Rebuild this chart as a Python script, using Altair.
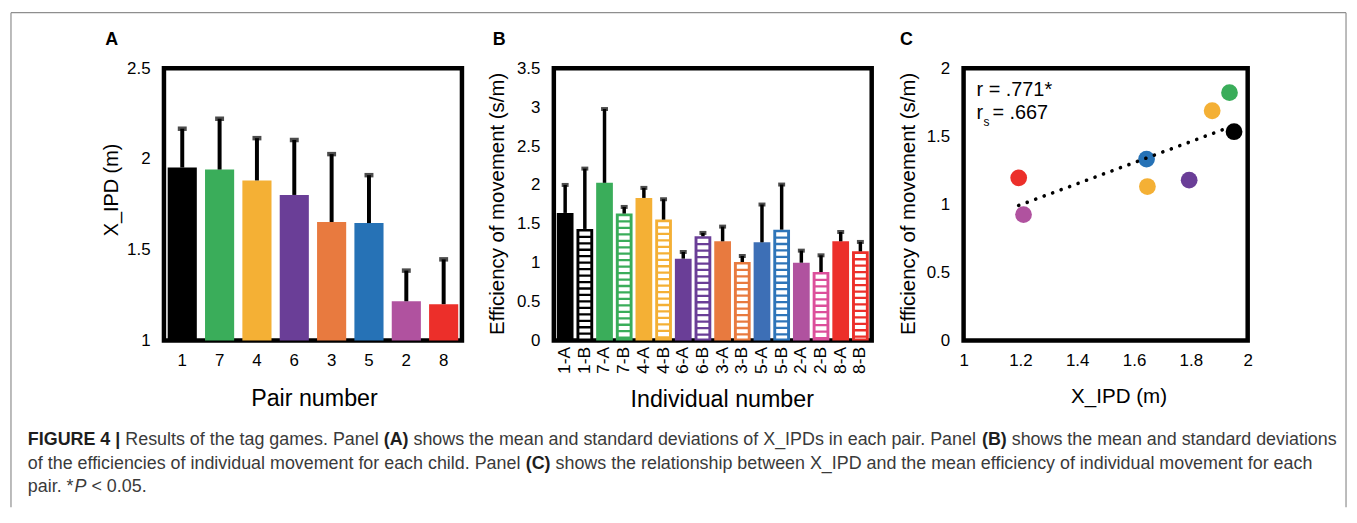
import altair as alt
import pandas as pd

# ---------------- data ----------------
# Panel A: X_IPD per pair (mean and mean+SD)
pairs = ["1", "7", "4", "6", "3", "5", "2", "8"]
pair_colors = ["#000000", "#3aad5a", "#f4b035", "#6a3e97", "#e87a3f", "#2672b6", "#b0529f", "#ec2f2a"]
xipd_mean = [1.953, 1.942, 1.882, 1.802, 1.653, 1.647, 1.216, 1.200]
xipd_upper = [2.167, 2.222, 2.115, 2.105, 2.027, 1.911, 1.385, 1.447]

# Panel B: efficiency of movement per child
individuals = ["1-A", "1-B", "7-A", "7-B", "4-A", "4-B", "6-A", "6-B",
               "3-A", "3-B", "5-A", "5-B", "2-A", "2-B", "8-A", "8-B"]
ind_colors = ["#000000", "#000000", "#3aad5a", "#3aad5a", "#f4b035", "#f4b035",
              "#6a3e97", "#6a3e97", "#e87a3f", "#e87a3f", "#3d6fb6", "#2e75b9",
              "#b0529f", "#dc4f9b", "#ec2f2a", "#ec2f2a"]
ind_hatched = [False, True] * 8
eff_mean = [1.64, 1.434, 2.027, 1.632, 1.833, 1.554, 1.052, 1.34,
            1.275, 1.009, 1.262, 1.425, 1.0, 0.88, 1.275, 1.146]
eff_upper = [2.0, 2.21, 2.976, 1.717, 1.962, 1.816, 1.138, 1.383,
             1.464, 1.086, 1.748, 2.005, 1.155, 1.095, 1.395, 1.267]

# Panel C: X_IPD vs mean efficiency per pair
c_pairs = ["1", "7", "4", "6", "3", "5", "2", "8"]
c_xipd = [1.952, 1.936, 1.875, 1.794, 1.647, 1.644, 1.211, 1.194]
c_eff = [1.534, 1.821, 1.688, 1.178, 1.131, 1.333, 0.925, 1.195]
c_colors = ["#000000", "#3aad5a", "#f4b035", "#6a3e97", "#f4b035", "#2672b6", "#b0529f", "#ec2f2a"]

caption_lines = [
    [("FIGURE 4 |", "b"), (" Results of the tag games. Panel ", "r"), ("(A)", "b"),
     (" shows the mean and standard deviations of X_IPDs in each pair. Panel ", "r"),
     ("(B)", "b"), (" shows the mean and standard deviations", "r")],
    [("of the efficiencies of individual movement for each child. Panel ", "r"), ("(C)", "b"),
     (" shows the relationship between X_IPD and the mean efficiency of individual movement for each", "r")],
    [("pair. *", "r"), ("P", "i"), (" < 0.05.", "r")],
]

# ---------------- layout helpers ----------------
FONT = "Liberation Sans"
H = 274
W_A, W_B, W_C = 300, 320, 286
SP = 92.5
OX_A, OY = 162, 64          # page position of panel A plot origin
OX_B = OX_A + W_A + SP
OX_C = OX_B + W_B + SP

one = pd.DataFrame({"k": [0]})

# Arial / Liberation Sans advance widths (per 1000 em)
REG = {' ': 278, '!': 278, '(': 333, ')': 333, '*': 389, ',': 278, '-': 333, '.': 278,
       '/': 278, '<': 584, '=': 584, '_': 556, '|': 260,
       'a': 556, 'b': 556, 'c': 500, 'd': 556, 'e': 556, 'f': 278, 'g': 556, 'h': 556,
       'i': 222, 'j': 222, 'k': 500, 'l': 222, 'm': 833, 'n': 556, 'o': 556, 'p': 556,
       'q': 556, 'r': 333, 's': 500, 't': 278, 'u': 556, 'v': 500, 'w': 722, 'x': 500,
       'y': 500, 'z': 500,
       'A': 667, 'B': 667, 'C': 722, 'D': 722, 'E': 667, 'F': 611, 'G': 778, 'H': 722,
       'I': 278, 'J': 500, 'K': 667, 'L': 556, 'M': 833, 'N': 722, 'O': 778, 'P': 667,
       'R': 722, 'S': 667, 'T': 611, 'U': 722, 'X': 667}
BOLD = {' ': 278, '(': 333, ')': 333, '|': 280, '4': 556, 'A': 722, 'B': 722, 'C': 722,
        'F': 611, 'I': 278, 'G': 778, 'U': 722, 'R': 722, 'E': 667}


def text_width(s, style, size):
    table = BOLD if style == "b" else REG
    return sum(table.get(ch, 556) for ch in s) * size / 1000.0


def vtext(txt, x, y, size, weight="normal", style="normal", color="black", align="left"):
    return alt.Chart(one).mark_text(
        align=align, baseline="alphabetic", font=FONT, fontSize=size,
        fontWeight=weight, fontStyle=style, color=color
    ).encode(x=alt.value(x), y=alt.value(y), text=alt.value(txt))


def vrule(x, y, x2=None, y2=None, color="#8e8e8e", width=1.2):
    enc = dict(x=alt.value(x), y=alt.value(y))
    if x2 is not None:
        enc["x2"] = alt.value(x2)
    if y2 is not None:
        enc["y2"] = alt.value(y2)
    return alt.Chart(one).mark_rule(color=color, strokeWidth=width).encode(**enc)


# ---------------- panel A ----------------
dfA = pd.DataFrame({"pair": pairs, "mean": xipd_mean, "upper": xipd_upper, "color": pair_colors})
scA_x = alt.Scale(paddingInner=0.22, paddingOuter=0.1)
scA_y = alt.Scale(domain=[1, 2.5], nice=False, zero=False)
axA_x = alt.Axis(title="Pair number", labelAngle=0, labelPadding=12, titleFontSize=23.4,
                 titleX=151, titleY=65, titleBaseline="alphabetic")
axA_y = alt.Axis(title="X_IPD (m)", values=[1, 1.5, 2, 2.5], format="~g", labelPadding=14,
                 titleFontSize=20, titleAngle=270, titleX=-47, titleY=122,
                 titleBaseline="alphabetic")
xA = alt.X("pair:N", sort=pairs, scale=scA_x, axis=axA_x)

barsA = alt.Chart(dfA).mark_bar().encode(
    x=xA, y=alt.Y("mean:Q", scale=scA_y, axis=axA_y), y2=alt.datum(1),
    color=alt.Color("color:N", scale=None))
errA = alt.Chart(dfA).mark_rule(color="black", strokeWidth=4).encode(
    x=xA, y=alt.Y("mean:Q", scale=scA_y, axis=axA_y), y2="upper:Q")
capA = alt.Chart(dfA).mark_tick(color="black", thickness=4.5, size=9, orient="horizontal").encode(
    x=xA, y=alt.Y("upper:Q", scale=scA_y, axis=axA_y))

# figure frame (grey border) and caption, positioned relative to panel A
border = [
    vrule(8 - OX_A, 8 - OY, x2=1352 - OX_A),
    vrule(8 - OX_A, 8 - OY, y2=506 - OY),
    vrule(1352 - OX_A, 8 - OY, y2=506 - OY),
]
caption = []
baselines = [443, 467, 491]
for line, base in zip(caption_lines, baselines):
    xpos = 25.0
    for seg, st in line:
        stripped = seg.lstrip(" ")
        lead = text_width(seg[: len(seg) - len(stripped)], st, 18)
        if stripped:
            caption.append(vtext(
                stripped.rstrip(" "), xpos + lead - OX_A, base - OY, 18,
                weight="bold" if st == "b" else "normal",
                style="italic" if st == "i" else "normal",
                color="#1e1e1e" if st == "b" else "#3a3a3a"))
        xpos += text_width(seg, st, 18)

panelA = alt.layer(
    barsA, errA, capA,
    vtext("A", 103 - OX_A, 41 - OY, 18, weight="bold"),
    *border, *caption
).properties(width=W_A, height=H)

# ---------------- panel B ----------------
dfB = pd.DataFrame({"ind": individuals, "mean": eff_mean, "upper": eff_upper,
                    "color": ind_colors, "hatched": ind_hatched})
scB_x = alt.Scale(paddingInner=0.15, paddingOuter=0.15)
scB_y = alt.Scale(domain=[0, 3.5], nice=False)
axB_x = alt.Axis(title="Individual number", labelAngle=270, labelPadding=6, labelFontSize=17.5,
                 titleFontSize=23.4, titleX=169, titleY=66, titleBaseline="alphabetic")
axB_y = alt.Axis(title="Efficiency of movement (s/m)", values=[0, 0.5, 1, 1.5, 2, 2.5, 3, 3.5],
                 format="~g", labelPadding=14, titleFontSize=20.5, titleAngle=270,
                 titleX=-51, titleY=136, titleBaseline="alphabetic")
xB = alt.X("ind:N", sort=individuals, scale=scB_x, axis=axB_x)

barsB = alt.Chart(dfB).mark_bar().encode(
    x=xB, y=alt.Y("mean:Q", scale=scB_y, axis=axB_y), y2=alt.datum(0),
    color=alt.Color("color:N", scale=None))
stripesB = alt.Chart(dfB).transform_filter(alt.datum.hatched).mark_rule(
    color="white", strokeWidth=11, strokeDash=[4.2, 2.3], strokeCap="butt",
    yOffset=2.6, y2Offset=-2
).encode(x=xB, y=alt.Y("mean:Q", scale=scB_y, axis=axB_y), y2=alt.datum(0))
errB = alt.Chart(dfB).mark_rule(color="black", strokeWidth=3.5).encode(
    x=xB, y=alt.Y("mean:Q", scale=scB_y, axis=axB_y), y2="upper:Q")
capB = alt.Chart(dfB).mark_tick(color="black", thickness=4, size=7, orient="horizontal").encode(
    x=xB, y=alt.Y("upper:Q", scale=scB_y, axis=axB_y))

panelB = alt.layer(
    barsB, stripesB, errB, capB,
    vtext("B", 493 - OX_B, 41 - OY, 18, weight="bold"),
).properties(width=W_B, height=H)

# ---------------- panel C ----------------
dfC = pd.DataFrame({"pair": c_pairs, "xipd": c_xipd, "eff": c_eff, "color": c_colors})
scC_x = alt.Scale(domain=[1, 2], nice=False, zero=False)
scC_y = alt.Scale(domain=[0, 2], nice=False)
axC_x = alt.Axis(title="X_IPD (m)", values=[1, 1.2, 1.4, 1.6, 1.8, 2], format="~g",
                 labelPadding=12, titleFontSize=20.7, titleX=156, titleY=62,
                 titleBaseline="alphabetic")
axC_y = alt.Axis(title="Efficiency of movement (s/m)", values=[0, 0.5, 1, 1.5, 2], format="~g",
                 labelPadding=14, titleFontSize=20.5, titleAngle=270, titleX=-49, titleY=136,
                 titleBaseline="alphabetic")

ptsC = alt.Chart(dfC).mark_circle(size=285, opacity=1).encode(
    x=alt.X("xipd:Q", scale=scC_x, axis=axC_x),
    y=alt.Y("eff:Q", scale=scC_y, axis=axC_y),
    color=alt.Color("color:N", scale=None))
trendC = alt.Chart(dfC).transform_regression("xipd", "eff").mark_line(
    color="black", strokeWidth=3.6, strokeDash=[0.1, 9], strokeCap="round"
).encode(x=alt.X("xipd:Q", scale=scC_x, axis=axC_x), y=alt.Y("eff:Q", scale=scC_y, axis=axC_y))

panelC = alt.layer(
    ptsC, trendC,
    vtext("C", 903 - OX_C, 41 - OY, 18, weight="bold"),
    vtext("r = .771*", 13, 28, 20),
    vtext("r", 13, 51, 20),
    vtext("s", 20, 58, 12),
    vtext("= .667", 29, 51, 20),
).properties(width=W_C, height=H)

chart = alt.hconcat(panelA, panelB, panelC, spacing=SP, bounds="flush").properties(
    padding=0, background="white"
).configure(font=FONT).configure_view(
    stroke="black", strokeWidth=4.5
).configure_axis(
    labelFont=FONT, titleFont=FONT, labelFontSize=17, labelColor="black",
    titleColor="black", titleFontWeight="normal", ticks=False, domain=False,
    grid=False, labelFlush=False, labelOverlap=False
)

chart.save("out.html", embed_options={"renderer": "svg", "actions": False})
